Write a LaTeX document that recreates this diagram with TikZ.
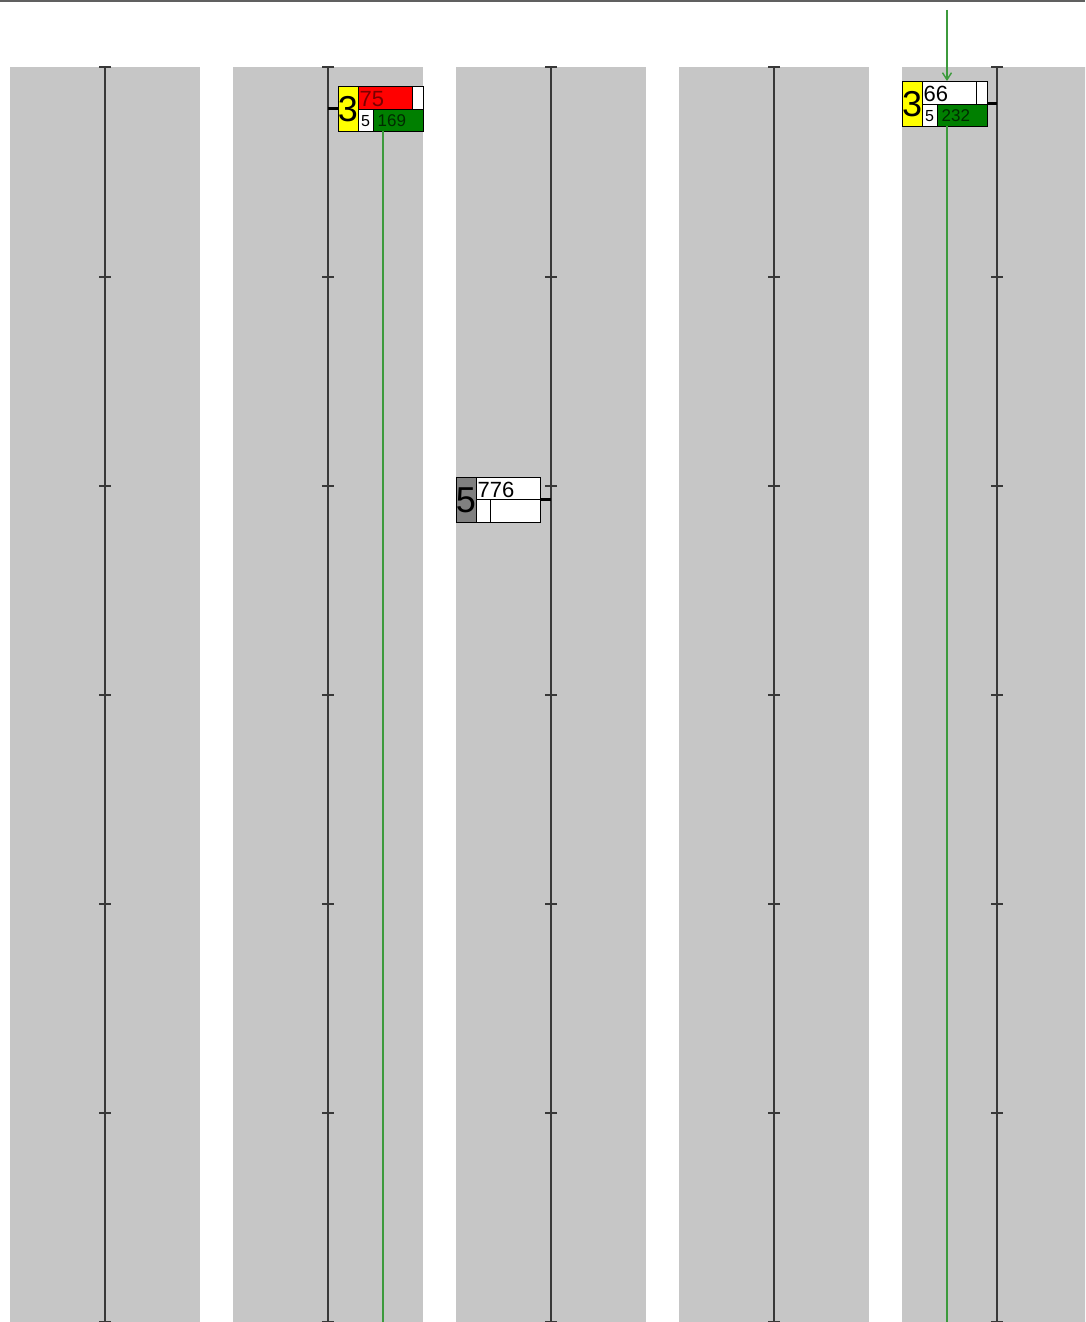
\documentclass[tikz,border=0pt]{standalone}
\usepackage{fontspec}
\setmainfont{Liberation Sans}
\usetikzlibrary{arrows.meta}
\definecolor{bg}{HTML}{C6C6C6}
\definecolor{topline}{HTML}{606060}
\definecolor{axisc}{HTML}{383838}
\definecolor{flagyellow}{HTML}{FFFF00}
\definecolor{flagred}{HTML}{FF0000}
\definecolor{flaggreen}{HTML}{007F00}
\definecolor{flaggray}{HTML}{808080}
\definecolor{routegreen}{HTML}{3C9A3C}
\definecolor{redtext}{HTML}{7A0000}
\definecolor{greentext}{HTML}{002A00}
\tikzset{
  colbg/.style={fill=bg, draw=none},
  axisline/.style={draw=axisc, line width=1.3pt},
  tickline/.style={draw=axisc, line width=1.1pt},
  cell/.style={draw=black, line width=0.8pt},
  stub/.style={draw=black, line width=3pt},
  route/.style={draw=routegreen, line width=1.4pt},
  boxframe/.style={rectangle, draw=none, minimum width=85pt, minimum height=45pt, inner sep=0pt, outer sep=0pt},
  bignum/.style={inner sep=0pt, font=\fontsize{36}{36}\selectfont},
  topnum/.style={inner sep=0pt, anchor=west, font=\fontsize{22}{22}\selectfont},
  smallnum/.style={inner sep=0pt, font=\fontsize{16}{16}\selectfont},
  botnum/.style={inner sep=0pt, anchor=west, font=\fontsize{17}{17}\selectfont},
}
\begin{document}
\begin{tikzpicture}[x=1pt,y=-1pt]
\useasboundingbox (0,0) rectangle (1085,1322);
\clip (0,0) rectangle (1085,1322);
\fill[white] (0,0) rectangle (1085,1322);
% top border
\draw[draw=topline, line width=2pt] (0,1) -- (1085,1);
% columns
\foreach \xl in {10,233,456,679,902} {
  \fill[colbg] (\xl,67) rectangle (\xl+190,1330);
}
% axes with ticks
\foreach \c/\n in {105/1,328/2,551/3,774/4,997/5} {
  \coordinate (ax\n top) at (\c,67);
  \coordinate (ax\n bot) at (\c,1322);
  \draw[axisline] (ax\n top) -- (ax\n bot);
  \foreach \ty in {67,277,486,695,904,1113,1322} {
    \draw[tickline] (\c-6,\ty) -- (\c+6,\ty);
  }
}
% ---------- box 1 (column 2) ----------
\node[boxframe] (b1) at (380.5,108.5) {};
\fill[flagyellow] (338,86) rectangle (358,131);
\fill[flagred] (358,86) rectangle (412,109);
\fill[white] (412,86) rectangle (423,109);
\fill[white] (358,109) rectangle (373,131);
\fill[flaggreen] (373,109) rectangle (423,131);
\draw[cell] (338,86) rectangle (423,131);
\draw[cell] (358,86) -- (358,131);
\draw[cell] (358,109) -- (423,109);
\draw[cell] (412,86) -- (412,109);
\draw[cell] (373,109) -- (373,131);
\node[bignum] (b1n) at (348,109) {3};
\node[topnum, text=redtext] (b1t) at (359.5,99) {75};
\node[smallnum] (b1s) at (365.5,121) {5};
\node[botnum, text=greentext] (b1b) at (377.5,121) {169};
\draw[stub] (ax2top |- b1.west) -- (b1.west);
\coordinate (g1end) at (383,1322);
\draw[route] (b1.south -| g1end) -- (g1end);
% ---------- box 2 (column 5) ----------
\node[boxframe] (b2) at (944.5,103.5) {};
\fill[flagyellow] (902,81) rectangle (922,126);
\fill[white] (922,81) rectangle (987,104);
\fill[white] (922,104) rectangle (937,126);
\fill[flaggreen] (937,104) rectangle (987,126);
\draw[cell] (902,81) rectangle (987,126);
\draw[cell] (922,81) -- (922,126);
\draw[cell] (922,104) -- (987,104);
\draw[cell] (976,81) -- (976,104);
\draw[cell] (937,104) -- (937,126);
\node[bignum] (b2n) at (912,104) {3};
\node[topnum] (b2t) at (923.5,94) {66};
\node[smallnum] (b2s) at (929.5,116) {5};
\node[botnum, text=greentext] (b2b) at (941.5,116) {232};
\draw[stub] (b2.east) -- (ax5top |- b2.east);
\coordinate (g2start) at (947,10);
\coordinate (g2end) at (947,1322);
\draw[route, -{Straight Barb[length=7pt,width=9pt]}] (g2start) -- (b2.north -| g2start);
\draw[route] (b2.south -| g2end) -- (g2end);
% ---------- box 3 (column 3) ----------
\node[boxframe, minimum width=84pt] (b3) at (498,499.5) {};
\fill[flaggray] (456,477) rectangle (476,522);
\fill[white] (476,477) rectangle (540,522);
\draw[cell] (456,477) rectangle (540,522);
\draw[cell] (476,477) -- (476,522);
\draw[cell] (476,499.5) -- (540,499.5);
\draw[cell] (490,499.5) -- (490,522);
\node[bignum] (b3n) at (466,500) {5};
\node[topnum] (b3t) at (477.5,490) {776};
\draw[stub] (b3.east) -- (ax3top |- b3.east);
\end{tikzpicture}
\end{document}
